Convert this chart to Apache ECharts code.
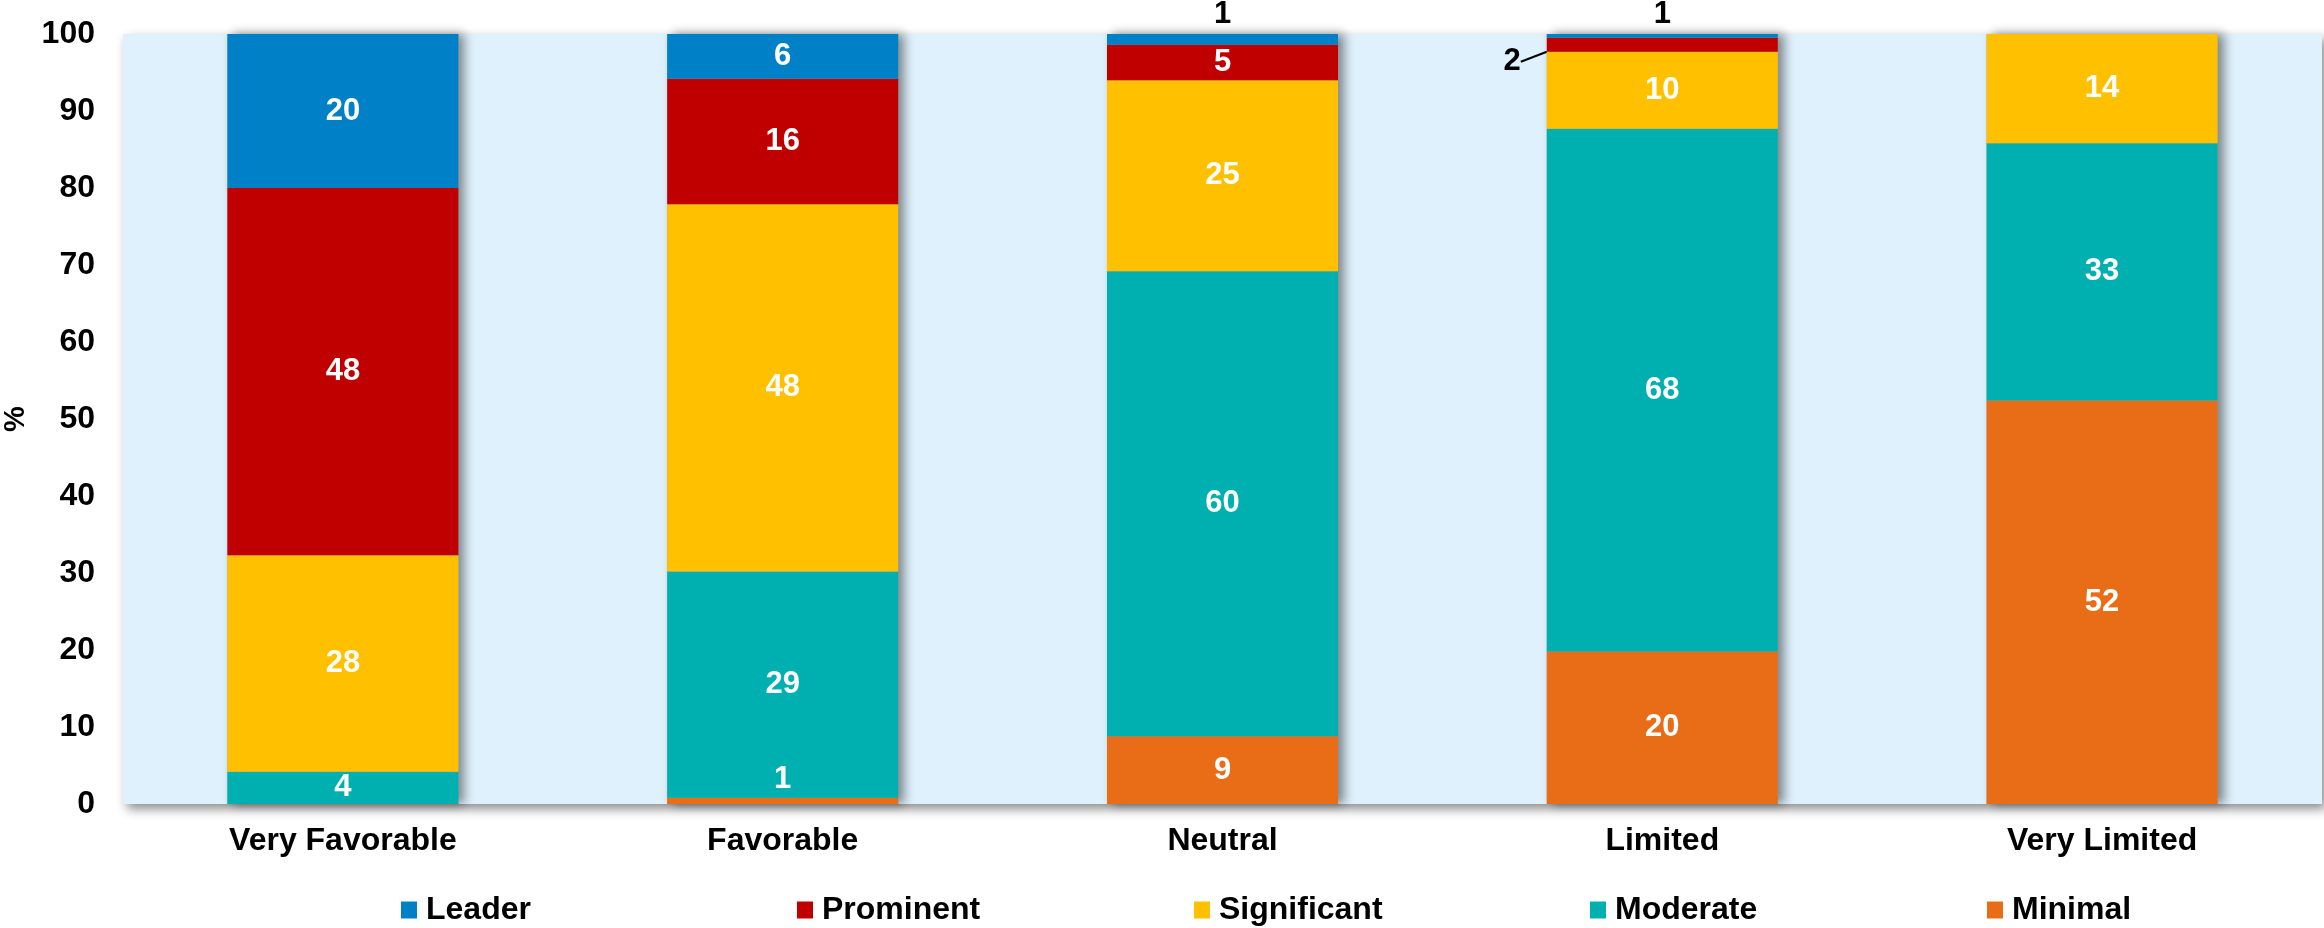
<!DOCTYPE html>
<html>
<head>
<meta charset="utf-8">
<script src="https://cdn.jsdelivr.net/npm/echarts@6/dist/echarts.min.js"></script>
<style>
  html, body { margin: 0; padding: 0; background: #fff; }
  #chart { width: 2324px; height: 928px; }
</style>
</head>
<body>
<div id="chart"></div>
<script>
// categories, bottom segment first in the stack
var categories = ["Very Favorable", "Favorable", "Neutral", "Limited", "Very Limited"];
var leader = [20, 5.8, 1.4, 0.5, 0];
var prominent = [47.7, 16.3, 4.6, 1.8, 0];
var significant = [28.1, 47.7, 24.8, 10.0, 14.2];
var moderate = [4.2, 29.4, 60.4, 67.9, 33.4];
var minimal = [0, 0.8, 8.8, 19.8, 52.4];
var yTicks = [0, 10, 20, 30, 40, 50, 60, 70, 80, 90, 100];

var FONT = "Liberation Sans, Arial, sans-serif";
var colors = {
  Leader: "#0080c6",
  Prominent: "#c00000",
  Significant: "#ffc000",
  Moderate: "#00b0b0",
  Minimal: "#e96c17"
};

var myChart = echarts.init(document.getElementById("chart"));

function segLabel() {
  return {
    show: true,
    position: "inside",
    color: "#fff",
    fontFamily: FONT,
    fontWeight: "bold",
    fontSize: 31,
    formatter: function (p) {
      return p.value > 0 ? Math.round(p.value) : "";
    }
  };
}

function stackSeries(name, values, special) {
  return {
    name: name,
    type: "bar",
    stack: "total",
    barWidth: 231,
    barGap: "-100%",
    z: 3,
    itemStyle: { color: colors[name] },
    label: segLabel(),
    data: values.map(function (v, i) {
      if (special && special[i]) {
        return { value: v, label: special[i] };
      }
      return v;
    })
  };
}

// backing bar only used to cast the drop shadow
var totals = categories.map(function (c, i) {
  return leader[i] + prominent[i] + significant[i] + moderate[i] + minimal[i];
});

var legendNames = ["Leader", "Prominent", "Significant", "Moderate", "Minimal"];
var legendLeft = [401, 797, 1194, 1590, 1987];

var blackTop = { position: "top", color: "#000", distance: 4 };

var prominentSeries = stackSeries("Prominent", prominent, {
  3: { position: "left", color: "#000", distance: 26 }
});
prominentSeries.labelLine = { show: true, lineStyle: { color: "#000", width: 2 } };
prominentSeries.labelLayout = function (p) {
  if (p.dataIndex !== 3) return {};
  var r = p.rect, l = p.labelRect;
  var dy = 17;
  var ly = l.y + l.height / 2 + dy;
  var lx = l.x + l.width + 6;
  return {
    dy: dy,
    labelLinePoints: [[lx, ly], [lx + 10, ly], [r.x, r.y + r.height / 2]]
  };
};

var minimalSeries = stackSeries("Minimal", minimal, {
  1: { position: "top", distance: 3 }
});

myChart.setOption({
  animation: false,
  grid: {
    left: 123,
    right: 2,
    top: 34,
    bottom: 124,
    containLabel: false,
    outerBoundsMode: "none",
    show: true,
    backgroundColor: "#dff1fc",
    borderWidth: 0,
    shadowColor: "rgba(0,0,0,0.45)",
    shadowBlur: 10,
    shadowOffsetX: 4,
    shadowOffsetY: 5
  },
  legend: legendNames.map(function (n, i) {
    return {
      data: [n],
      left: legendLeft[i],
      top: 894,
      padding: 0,
      icon: "rect",
      itemWidth: 16,
      itemHeight: 17,
      textStyle: {
        fontFamily: FONT,
        fontWeight: "bold",
        fontSize: 32,
        color: "#000",
        padding: [0, 0, 0, 4]
      }
    };
  }),
  xAxis: {
    type: "category",
    data: categories,
    axisLine: { show: false },
    axisTick: { show: false },
    axisLabel: {
      margin: 21,
      color: "#000",
      fontFamily: FONT,
      fontWeight: "bold",
      fontSize: 32
    }
  },
  yAxis: {
    type: "value",
    min: yTicks[0],
    max: yTicks[yTicks.length - 1],
    interval: yTicks[1] - yTicks[0],
    name: "%",
    nameLocation: "middle",
    nameGap: 92,
    nameTextStyle: {
      color: "#000",
      fontFamily: FONT,
      fontWeight: "bold",
      fontSize: 29
    },
    axisLine: { show: false },
    axisTick: { show: false },
    splitLine: { show: false },
    axisLabel: {
      margin: 28,
      color: "#000",
      fontFamily: FONT,
      fontWeight: "bold",
      fontSize: 32
    }
  },
  series: [
    {
      name: "shadow",
      type: "bar",
      barWidth: 231,
      barGap: "-100%",
      z: 2,
      silent: true,
      itemStyle: {
        color: "#9aa4ab",
        shadowColor: "rgba(0,0,0,0.45)",
        shadowBlur: 10,
        shadowOffsetX: 6,
        shadowOffsetY: 0
      },
      data: totals
    },
    minimalSeries,
    stackSeries("Moderate", moderate),
    stackSeries("Significant", significant),
    prominentSeries,
    stackSeries("Leader", leader, { 2: blackTop, 3: blackTop })
  ]
});
</script>
</body>
</html>
